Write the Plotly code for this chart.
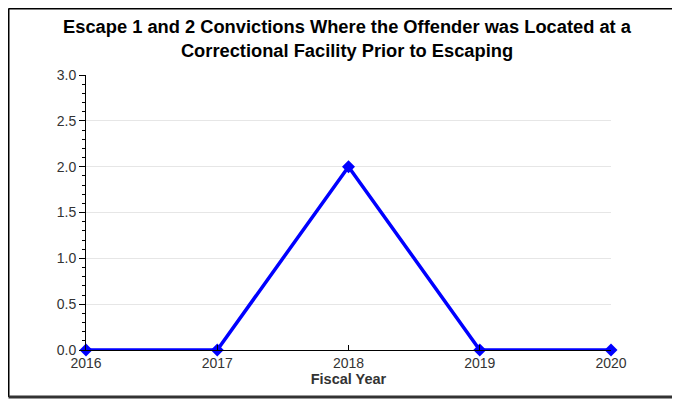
import plotly.graph_objects as go

# Data
years = [2016, 2017, 2018, 2019, 2020]
convictions = [0, 0, 2, 0, 0]
y_ticks = [0.0, 0.5, 1.0, 1.5, 2.0, 2.5, 3.0]

fig = go.Figure()

fig.add_trace(go.Scatter(
    x=years,
    y=convictions,
    mode='lines+markers',
    line=dict(color='#0000ff', width=3.5),
    marker=dict(symbol='diamond', size=10, color='#0000ff'),
    cliponaxis=False,
    showlegend=False,
))

# Outer frame (left/top black, bottom dark gray)
fig.add_shape(type='line', xref='paper', yref='paper',
              x0=-0.1476, x1=1.2, y0=1.2418, y1=1.2418,
              line=dict(color='black', width=2))
fig.add_shape(type='line', xref='paper', yref='paper',
              x0=-0.1476, x1=-0.1476, y0=1.2418, y1=-0.1709,
              line=dict(color='black', width=2))
fig.add_shape(type='line', xref='paper', yref='paper',
              x0=-0.1476, x1=1.2, y0=-0.1709, y1=-0.1709,
              line=dict(color='#333333', width=3))

# page body adds an 8px offset, so the figure is kept 8px smaller to avoid overflow
fig.update_layout(
    width=672,
    height=394,
    margin=dict(l=78, r=69, t=67, b=52),
    paper_bgcolor='white',
    plot_bgcolor='white',
    font=dict(family='Liberation Sans, Arial, sans-serif', size=14, color='#333333'),
    title=dict(
        text='<b>Escape 1 and 2 Convictions Where the Offender was Located at a<br>Correctional Facility Prior to Escaping</b>',
        x=339 / 672,
        xanchor='center',
        y=1 - 25 / 394,
        yanchor='middle',
        font=dict(size=18.3, color='black'),
    ),
)

fig.update_xaxes(
    range=[2016, 2020],
    tickvals=years,
    ticktext=[str(y) for y in years],
    showgrid=False,
    zeroline=False,
    showline=True,
    linecolor='black',
    linewidth=1,
    ticks='inside',
    ticklen=5,
    tickcolor='black',
    title=dict(text='<b>Fiscal Year</b>', font=dict(size=14.5, color='#333333'), standoff=2),
    tickfont=dict(size=14, color='#333333'),
)

fig.update_yaxes(
    range=[0, 3],
    tickvals=y_ticks,
    tickformat='.1f',
    showgrid=True,
    gridcolor='#e6e6e6',
    zeroline=False,
    showline=True,
    linecolor='black',
    linewidth=1,
    ticks='outside',
    ticklen=6,
    tickcolor='black',
    tickfont=dict(size=14, color='#333333'),
    minor=dict(dtick=0.1, ticks='outside', ticklen=3, tickcolor='black', showgrid=False),
)

fig.write_html("out.html")
